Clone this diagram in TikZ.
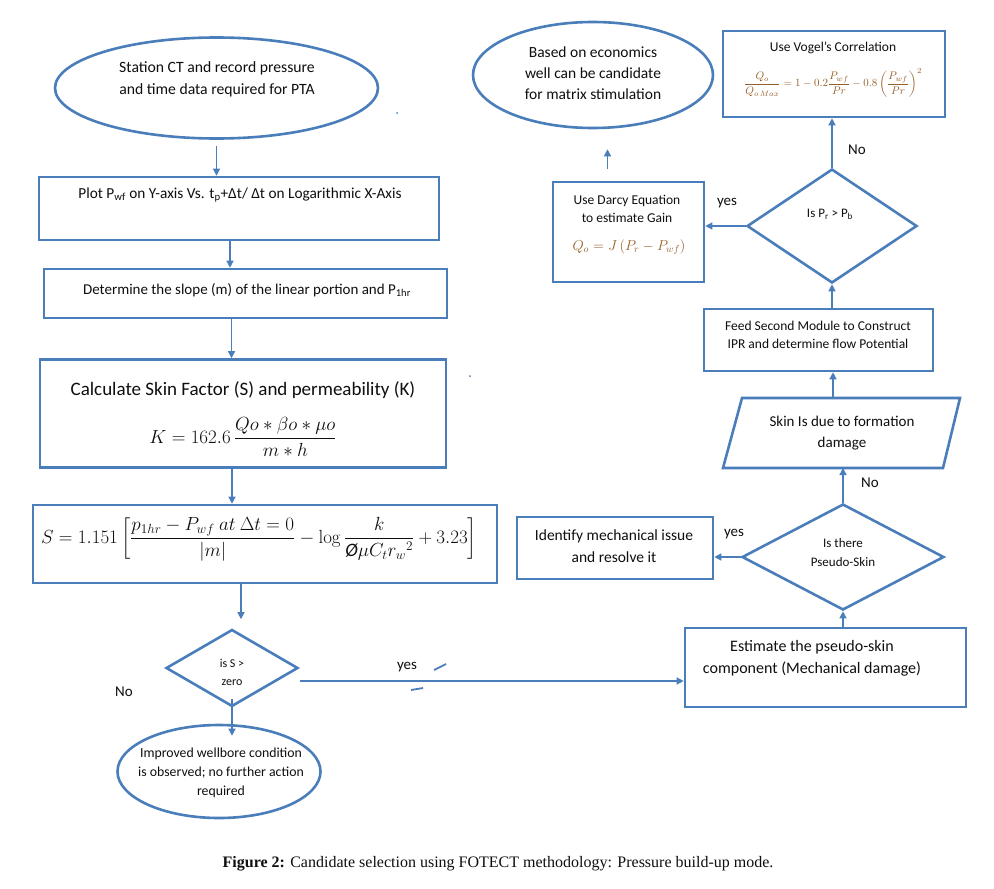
\RequirePackage{fix-cm}
\documentclass[tikz,border=0pt]{standalone}
\usepackage{amsmath}
\usepackage[no-math]{fontspec}
\setmainfont{Carlito}
\newfontfamily\capfont{Liberation Serif}
\usetikzlibrary{shapes.geometric,arrows.meta,calc}
\definecolor{lb}{RGB}{74,126,187}
\definecolor{fc}{RGB}{150,95,40}
\definecolor{tx}{RGB}{15,15,15}
\begin{document}
\begin{tikzpicture}[x=1pt,y=-1pt,
  shp/.style={draw=lb,line width=2.6pt,inner sep=0pt},
  boxn/.style={shp,rectangle},
  elln/.style={shp,ellipse},
  dian/.style={shp,diamond},
  txt/.style={text=tx,align=center,inner sep=0pt},
  conn/.style={draw=lb,line width=1.3pt,-{Triangle[width=7pt,length=7pt]}},
  lab/.style={text=tx,inner sep=0pt,font=\fontsize{15}{18}\selectfont},
  stray/.style={draw=lb,line width=1.8pt}
]
\fill[white] (0,0) rectangle (994,889);
\useasboundingbox (0,0) rectangle (994,889);

% left column
\node[elln,minimum width=323,minimum height=101] (e1) at (216.5,88) {};
\node[txt,font=\fontsize{15.7}{22}\selectfont] (t1) at (217,79) {Station CT and record pressure\\and time data required for PTA};

\node[boxn,minimum width=400,minimum height=63] (b1) at (239,208.5) {};
\node[txt,font=\fontsize{15.3}{17}\selectfont] (t2) at (240,195) {Plot P\textsubscript{wf} on Y-axis Vs. t\textsubscript{p}+Δt/ Δt on Logarithmic X-Axis};

\node[boxn,minimum width=403,minimum height=49] (b2) at (245.5,293.5) {};
\node[txt,font=\fontsize{15}{17}\selectfont] (t3) at (247,290) {Determine the slope (m) of the linear portion and P\textsubscript{1hr}};

\node[boxn,minimum width=406,minimum height=108] (b3) at (243,413.5) {};
\node[txt,font=\fontsize{19}{22}\selectfont] (t4) at (243,390) {Calculate Skin Factor (S) and permeability (K)};
\node[txt,font=\fontsize{19}{22}\selectfont] (f1) at (243,437) {$K = 162.6\,\dfrac{Qo * \beta o * \mu o}{m * h}$};

\node[boxn,minimum width=464,minimum height=78] (b4) at (265,544) {};
\node[txt,font=\fontsize{19}{23}\selectfont] (f2) at (259,539) {$S = 1.151\left[\dfrac{p_{1hr} - P_{wf}\ at\ \Delta t = 0}{|m|} - \log\dfrac{k}{\textit{\O}\mu C_t {r_w}^2} + 3.23\right]$};

\node[dian,minimum width=132,minimum height=77] (d1) at (232,668) {};
\node[txt,font=\fontsize{12}{18}\selectfont] (t5) at (232,672) {is S >\\zero};

\node[elln,minimum width=203,minimum height=93] (e2) at (219,771.5) {};
\node[txt,font=\fontsize{13.8}{19}\selectfont] (t6) at (221,773) {Improved wellbore condition\\is observed; no further action\\required};

% right column
\node[boxn,minimum width=281,minimum height=79] (b5) at (825.5,667.5) {};
\node[txt,font=\fontsize{16}{22}\selectfont] (t7) at (812,658) {Estimate the pseudo-skin\\component (Mechanical damage)};

\node[dian,minimum width=202,minimum height=106] (d2) at (843,557) {};
\node[txt,font=\fontsize{13}{19}\selectfont] (t8) at (843,552.5) {Is there\\Pseudo-Skin};

\node[boxn,minimum width=196,minimum height=62] (b6) at (615,548) {};
\node[txt,font=\fontsize{15.5}{22}\selectfont] (t9) at (614,546) {Identify mechanical issue\\and resolve it};

% parallelogram
\coordinate (pTop) at (833,398);
\coordinate (pBot) at (843,468);
\draw[draw=lb,line width=2.6pt,line join=miter] (742,398) -- (960,398) -- (943,468) -- (723,468) -- cycle;
\node[txt,font=\fontsize{15}{21}\selectfont] (t10) at (842,433.5) {Skin Is due to formation\\damage};

\node[boxn,minimum width=229,minimum height=62] (b7) at (818.5,340) {};
\node[txt,font=\fontsize{13.5}{18}\selectfont] (t11) at (818,335) {Feed Second Module to Construct\\IPR and determine flow Potential};

\node[dian,minimum width=170,minimum height=114] (d3) at (832,226) {};
\node[txt,font=\fontsize{13}{16}\selectfont] (t12) at (830,214) {Is P\textsubscript{r} > P\textsubscript{b}};

\node[boxn,minimum width=151,minimum height=100] (b8) at (628.5,232) {};
\node[txt,font=\fontsize{13.5}{18}\selectfont] (t13) at (627,209) {Use Darcy Equation\\to estimate Gain};
\node[txt,font=\fontsize{14.4}{16}\selectfont,text=fc] (f3) at (629,247) {$Q_o = J\left(P_r - P_{wf}\right)$};

\node[elln,minimum width=240,minimum height=106] (e3) at (593,75) {};
\node[txt,font=\fontsize{15.5}{21}\selectfont] (t14) at (593,73) {Based on economics\\well can be candidate\\for matrix stimulation};

\node[boxn,minimum width=222,minimum height=86] (b9) at (834,74) {};
\node[txt,font=\fontsize{13.5}{16}\selectfont] (t15) at (833,48) {Use Vogel’s Correlation};
\node[txt,font=\fontsize{11}{13}\selectfont,text=fc] (f4) at (833,83) {$\dfrac{Q_o}{Q_{o\,Max}} = 1 - 0.2\dfrac{P_{wf}}{Pr} - 0.8\left(\dfrac{P_{wf}}{Pr}\right)^{2}$};

% labels
\node[lab] (l1) at (124,692) {No};
\node[lab] (l2) at (407,667) {yes};
\node[lab] (l3) at (734,534) {yes};
\node[lab] (l4) at (870,483) {No};
\node[lab] (l5) at (727,203) {yes};
\node[lab] (l6) at (857,150) {No};

% connectors
\draw[conn,shorten <=6pt] (e1.south) -- (e1.south |- b1.north);
\draw[conn] ([xshift=-9pt]b1.south) -- ([xshift=-9pt]b1.south |- b2.north);
\draw[conn] ([xshift=-14pt]b2.south) -- ([xshift=-14pt]b2.south |- b3.north);
\draw[conn] ([xshift=-11pt]b3.south) -- ([xshift=-11pt]b3.south |- b4.north);
\draw[conn,shorten >=9pt] ([xshift=-24pt]b4.south) -- ([xshift=-24pt]b4.south |- d1.north);
\draw[conn] ([yshift=9pt]d1.south) -- ([yshift=-12pt]d1.south |- e2.north);
\coordinate (ys) at (300,681);
\draw[conn] (ys) -- (ys -| b5.west);
\draw[conn] (b5.north -| d2.south) -- (d2.south);
\draw[conn] (d2.west) -- (d2.west -| b6.east);
\draw[conn] (d2.north) -- (pBot);
\draw[conn] (pTop) -- (pTop |- b7.south);
\draw[conn] (b7.north -| d3.south) -- (d3.south);
\draw[conn] (d3.west) -- (d3.west -| b8.east);
\draw[conn] (d3.north) -- (d3.north |- b9.south);
\draw[conn,shorten <=12pt,shorten >=20pt] ([xshift=-21pt]b8.north) -- ([xshift=-21pt]b8.north |- e3.south);

% stray marks
\draw[stray] (434,670) -- (446,664);
\draw[stray] (411,690) -- (423,688);
\fill[lb] (397,113) circle (1);
\fill[lb] (470,376) circle (1);

% caption
\node[text=tx,inner sep=0pt,font=\capfont\fontsize{16}{18}\selectfont] (cap) at (498,864) {\textbf{Figure 2:} Candidate selection using FOTECT methodology: Pressure build-up mode.};
\end{tikzpicture}
\end{document}
